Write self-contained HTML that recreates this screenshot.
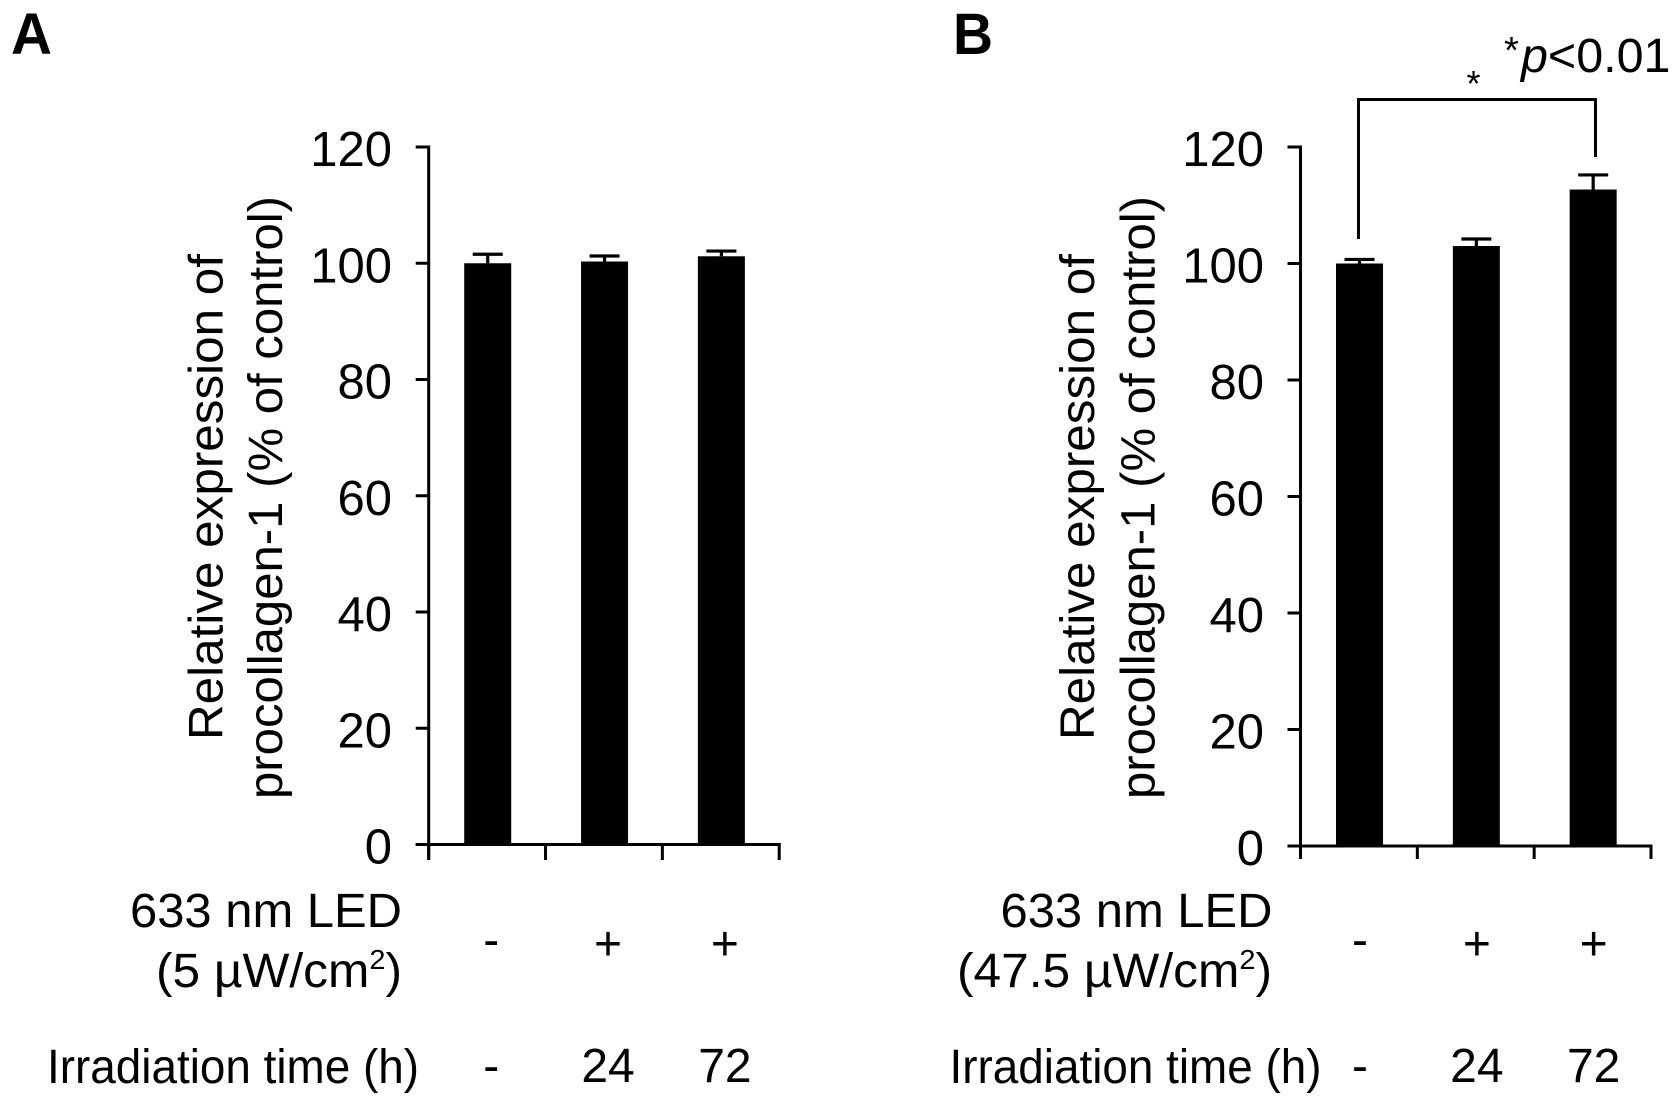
<!DOCTYPE html>
<html lang="en">
<head>
<meta charset="utf-8">
<title>Relative expression of procollagen-1</title>
<style>
html,body{margin:0;padding:0;background:#fff;width:1677px;height:1104px;overflow:hidden}
svg{display:block}
text{font-family:"Liberation Sans",Arial,sans-serif;fill:#000;font-size:48px}
</style>
</head>
<body>
<svg id="figure" width="1677" height="1104" viewBox="0 0 1677 1104" xmlns="http://www.w3.org/2000/svg">
  <rect x="0" y="0" width="1677" height="1104" fill="#fff"/>

  <text x="11" y="54" font-weight="bold" style="font-size:58px" textLength="41" lengthAdjust="spacingAndGlyphs">A</text>
  <text x="953" y="54" font-weight="bold" style="font-size:58px" textLength="40" lengthAdjust="spacingAndGlyphs">B</text>

  <text transform="translate(222.5 497) rotate(-90)" text-anchor="middle" textLength="486" lengthAdjust="spacingAndGlyphs">Relative expression of</text>
  <text transform="translate(282 497.5) rotate(-90)" text-anchor="middle" textLength="603" lengthAdjust="spacingAndGlyphs">procollagen-1 (% of control)</text>
  <text transform="translate(1094 497) rotate(-90)" text-anchor="middle" textLength="486" lengthAdjust="spacingAndGlyphs">Relative expression of</text>
  <text transform="translate(1154.5 497.5) rotate(-90)" text-anchor="middle" textLength="603" lengthAdjust="spacingAndGlyphs">procollagen-1 (% of control)</text>

  <text x="402" y="927" text-anchor="end" textLength="272" lengthAdjust="spacingAndGlyphs">633 nm LED</text>
  <text x="156" y="987" textLength="246" lengthAdjust="spacingAndGlyphs">(5 µW/cm<tspan dy="-18" style="font-size:28px">2</tspan><tspan dy="18">)</tspan></text>
  <text x="47" y="1083" textLength="372" lengthAdjust="spacingAndGlyphs">Irradiation time (h)</text>

  <text x="1272.5" y="927" text-anchor="end" textLength="272" lengthAdjust="spacingAndGlyphs">633 nm LED</text>
  <text x="957" y="987" textLength="315" lengthAdjust="spacingAndGlyphs">(47.5 µW/cm<tspan dy="-18" style="font-size:28px">2</tspan><tspan dy="18">)</tspan></text>
  <text x="949.5" y="1083" textLength="372" lengthAdjust="spacingAndGlyphs">Irradiation time (h)</text>

  <path d="M1358.5 239V99.5H1595.5V157" fill="none" stroke="#000" stroke-width="3"/>
  <text x="1473.5" y="96" text-anchor="middle" style="font-size:36px">*</text>
  <text x="1504" y="72" textLength="166.5" lengthAdjust="spacingAndGlyphs"><tspan dy="-9" style="font-size:38px">*</tspan><tspan dy="9" font-style="italic" dx="2">p</tspan>&lt;0.01</text>

  <g id="panel-a"></g>
  <g id="panel-b"></g>
</svg>

<script>
var yTickLabels = [0, 20, 40, 60, 80, 100, 120];
var ledStates = ['-', '+', '+'];
var timeLabels = ['-', '24', '72'];
var panelAValues = [100, 100.3, 101.2];
var panelAErrors = [1.55, 0.95, 0.9];
var panelBValues = [100, 103, 112.7];
var panelBErrors = [0.7, 1.2, 2.5];

var NS = 'http://www.w3.org/2000/svg';

function svgEl(parent, tag, attrs) {
  var el = document.createElementNS(NS, tag);
  for (var k in attrs) { el.setAttribute(k, attrs[k]); }
  parent.appendChild(el);
  return el;
}

function drawPanel(groupId, prefix, values, errors, axisX, axisEndX, zeroY, topY, tickBottom, labelRight, labelShift) {
  var g = document.getElementById(groupId);
  var maxTick = yTickLabels[yTickLabels.length - 1];
  function yScale(v) { return zeroY + (topY - zeroY) * v / maxTick; }
  function xBand(i) { return axisX + (axisEndX - axisX) * i / values.length; }
  function xCenter(i) { return xBand(i + 0.5) + 0.6; }
  var barWidth = 47;
  var capWidth = 30;

  values.forEach(function (v, i) {
    var bar = svgEl(g, 'rect', {
      x: xCenter(i) - barWidth / 2,
      y: yScale(v),
      width: barWidth,
      height: zeroY - yScale(v),
      fill: '#000'
    });
    
    

    var top = yScale(v + errors[i]);
    var err = svgEl(g, 'path', {
      d: 'M' + xCenter(i) + ' ' + yScale(v) + 'V' + top +
         'M' + (xCenter(i) - capWidth / 2) + ' ' + top + 'H' + (xCenter(i) + capWidth / 2),
      fill: 'none',
      stroke: '#000',
      'stroke-width': 3.2
    });
    
    

    var led = svgEl(g, 'text', {
      x: xCenter(i) + labelShift,
      y: ledStates[i] === '-' ? 956 : 960,
      'text-anchor': 'middle'
    });
    led.textContent = ledStates[i];
    
    

    var time = svgEl(g, 'text', { x: xCenter(i) + labelShift, y: 1082, 'text-anchor': 'middle' });
    time.textContent = timeLabels[i];
    
    
  });

  var yAxis = svgEl(g, 'line', {
    x1: axisX, x2: axisX, y1: topY - 1.5, y2: tickBottom, stroke: '#000', 'stroke-width': 3
  });
  
  

  var xAxis = svgEl(g, 'line', {
    x1: axisX - 13, x2: axisEndX + 1.5, y1: zeroY, y2: zeroY, stroke: '#000', 'stroke-width': 3
  });
  
  

  yTickLabels.forEach(function (t) {
    var tick = svgEl(g, 'line', {
      x1: axisX - 13, x2: axisX, y1: yScale(t), y2: yScale(t), stroke: '#000', 'stroke-width': 3
    });
    
    

    var lab = svgEl(g, 'text', { x: labelRight, y: yScale(t) + 19, 'text-anchor': 'end' });
    lab.style.fontSize = '49px';
    lab.textContent = String(t);
    
    
  });

  for (var i = 0; i <= values.length; i++) {
    var xt = svgEl(g, 'line', {
      x1: xBand(i), x2: xBand(i), y1: zeroY, y2: tickBottom, stroke: '#000', 'stroke-width': 3
    });
    
    
  }
}

drawPanel('panel-a', 'panel-a', panelAValues, panelAErrors, 428.7, 779.2, 844.5, 147, 860, 392, 3.5);
drawPanel('panel-b', 'panel-b', panelBValues, panelBErrors, 1300.5, 1651, 846, 147, 859, 1264, 0.5);
</script>
</body>
</html>
